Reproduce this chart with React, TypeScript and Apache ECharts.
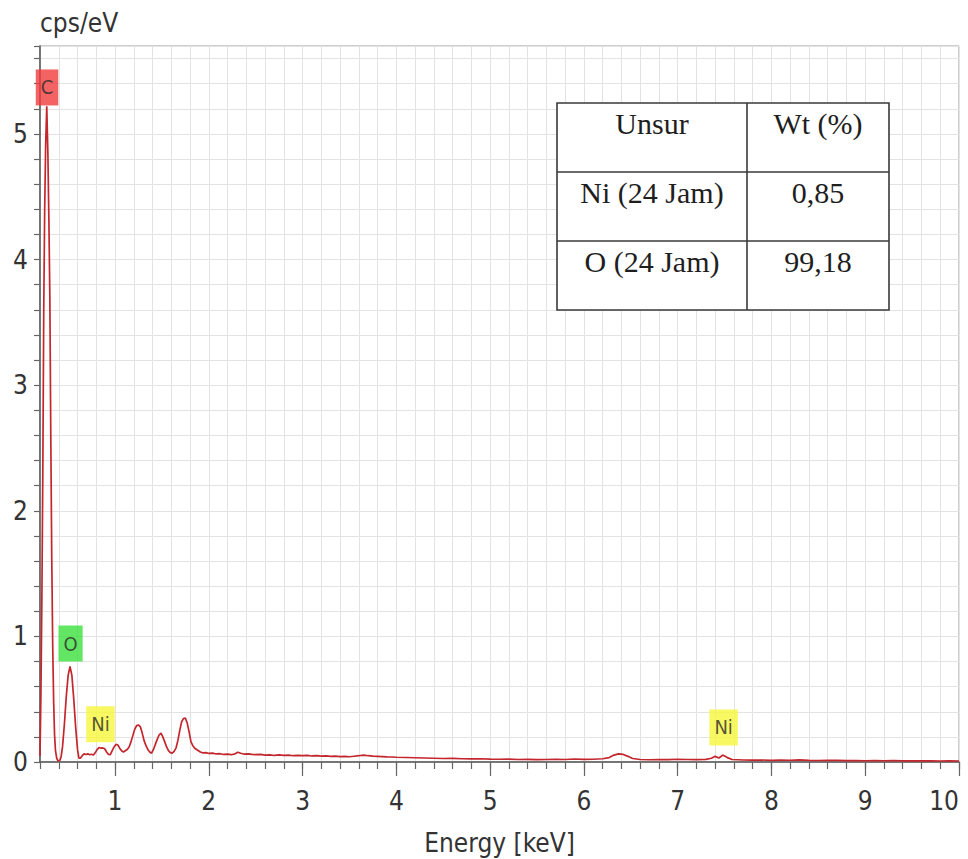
import React, { useEffect, useRef } from "react";
import * as echarts from "echarts";

// ---------- data ----------
const spectrum: [number, number][] = [
  [0.200,0.05],[0.210,0.55],[0.220,1.30],[0.230,2.30],[0.240,3.60],[0.250,4.40],[0.260,4.90],[0.272,5.22],[0.284,4.85],[0.295,4.30],
  [0.305,3.70],[0.315,2.60],[0.325,1.65],[0.335,0.95],[0.345,0.50],[0.355,0.22],[0.365,0.09],[0.378,0.03],[0.392,0.01],[0.410,0.01],
  [0.425,0.04],[0.440,0.12],[0.460,0.30],[0.480,0.52],[0.500,0.69],[0.520,0.76],[0.540,0.69],[0.560,0.50],[0.580,0.28],[0.600,0.10],
  [0.615,0.03],[0.630,0.03],[0.650,0.05],[0.670,0.065],[0.690,0.06],[0.710,0.065],[0.730,0.058],[0.750,0.062],[0.770,0.056],[0.790,0.075],
  [0.810,0.10],[0.830,0.115],[0.850,0.11],[0.870,0.112],[0.890,0.105],[0.910,0.08],[0.930,0.06],[0.950,0.058],[0.970,0.09],[0.990,0.12],
  [1.010,0.14],[1.030,0.135],[1.050,0.11],[1.070,0.09],[1.090,0.08],[1.110,0.09],[1.130,0.10],[1.150,0.12],[1.170,0.16],[1.190,0.21],
  [1.210,0.26],[1.230,0.29],[1.250,0.295],[1.270,0.28],[1.290,0.23],[1.310,0.17],[1.330,0.13],[1.350,0.10],[1.370,0.08],[1.390,0.07],
  [1.410,0.10],[1.430,0.14],[1.450,0.18],[1.470,0.215],[1.490,0.23],[1.510,0.20],[1.530,0.16],[1.550,0.12],[1.570,0.09],[1.590,0.075],
  [1.610,0.07],[1.630,0.085],[1.650,0.11],[1.670,0.17],[1.690,0.25],[1.710,0.32],[1.730,0.345],[1.750,0.35],[1.770,0.31],[1.790,0.24],
  [1.810,0.16],[1.830,0.13],[1.850,0.11],[1.870,0.10],[1.890,0.09],[1.910,0.08],[1.940,0.072],[1.970,0.075],[2.000,0.068],[2.040,0.07],
  [2.080,0.064],[2.120,0.066],[2.160,0.06],[2.200,0.062],[2.240,0.058],[2.280,0.065],[2.310,0.078],[2.340,0.07],[2.380,0.062],[2.420,0.065],
  [2.460,0.06],[2.500,0.058],[2.550,0.06],[2.600,0.055],[2.650,0.057],[2.700,0.052],[2.750,0.056],[2.800,0.053],[2.850,0.055],[2.900,0.05],
  [2.950,0.052],[3.000,0.05],[3.050,0.053],[3.100,0.048],[3.150,0.05],[3.200,0.047],[3.250,0.049],[3.300,0.045],[3.350,0.046],[3.400,0.043],
  [3.450,0.045],[3.500,0.042],[3.550,0.046],[3.600,0.05],[3.650,0.055],[3.700,0.05],[3.750,0.047],[3.800,0.045],[3.850,0.043],[3.900,0.041],
  [3.950,0.04],[4.000,0.038],[4.100,0.036],[4.200,0.034],[4.300,0.032],[4.400,0.03],[4.500,0.028],[4.600,0.029],[4.700,0.026],[4.800,0.025],
  [4.900,0.026],[5.000,0.023],[5.100,0.022],[5.200,0.023],[5.300,0.02],[5.400,0.021],[5.500,0.019],[5.600,0.02],[5.700,0.022],[5.800,0.02],
  [5.900,0.024],[6.000,0.021],[6.100,0.022],[6.200,0.026],[6.270,0.035],[6.320,0.055],[6.370,0.065],[6.420,0.06],[6.470,0.045],[6.520,0.028],
  [6.600,0.02],[6.700,0.018],[6.800,0.02],[6.900,0.019],[7.000,0.022],[7.100,0.02],[7.200,0.019],[7.300,0.021],[7.360,0.03],[7.400,0.045],
  [7.440,0.032],[7.480,0.055],[7.530,0.035],[7.580,0.02],[7.700,0.016],[7.800,0.015],[7.900,0.016],[8.000,0.013],[8.100,0.015],[8.200,0.014],
  [8.300,0.017],[8.400,0.013],[8.500,0.012],[8.600,0.014],[8.700,0.013],[8.800,0.011],[8.900,0.012],[9.000,0.01],[9.100,0.011],[9.200,0.01],
  [9.300,0.012],[9.400,0.009],[9.500,0.01],[9.600,0.009],[9.700,0.01],[9.800,0.008],[9.900,0.009],[10.000,0.008],
];

const peakNames = ["C", "O", "Ni", "Ni"];
const peakLabelKeV = [0.275, 0.526, 0.845, 7.49];
const peakLabelCps = [5.37, 0.943, 0.30, 0.275];
const peakColors = ["#f03c3c", "#3ce03c", "#f6f63c", "#f6f63c"];

const xMajorTicks = [1, 2, 3, 4, 5, 6, 7, 8, 9, 10];

const tableHeader = ["Unsur", "Wt (%)"];
const tableElements = ["Ni (24 Jam)", "O (24 Jam)"];
const tableWt = ["0,85", "99,18"];

const axisFont = "'Liberation Sans Narrow', 'DejaVu Sans Condensed', 'Open Sans', sans-serif";

export default function App() {
  const ref = useRef<HTMLDivElement>(null);

  useEffect(() => {
    document.body.style.margin = "0";
    if (!ref.current) return;
    const chart = echarts.init(ref.current, undefined, { renderer: "svg" });

    // table graphic
    const tx = 557, ty = 103, tw = 332, th = 207;
    const colX = 747;
    const rowY = [103, 172, 241];
    const rows = [tableHeader, ...tableElements.map((e, i) => [e, tableWt[i]])];
    const tableEls: any[] = [
      { type: "rect", shape: { x: tx, y: ty, width: tw, height: th }, style: { fill: "#ffffff", stroke: "#3a3a3a", lineWidth: 1.6 }, z: 100 },
      { type: "line", shape: { x1: colX, y1: ty, x2: colX, y2: ty + th }, style: { stroke: "#3a3a3a", lineWidth: 1.6 }, z: 101 },
      { type: "line", shape: { x1: tx, y1: rowY[1], x2: tx + tw, y2: rowY[1] }, style: { stroke: "#3a3a3a", lineWidth: 1.6 }, z: 101 },
      { type: "line", shape: { x1: tx, y1: rowY[2], x2: tx + tw, y2: rowY[2] }, style: { stroke: "#3a3a3a", lineWidth: 1.6 }, z: 101 },
    ];
    rows.forEach((r, i) => {
      const cy = rowY[i] + 20;
      tableEls.push({
        type: "text", x: (tx + colX) / 2, y: cy, z: 102,
        style: { text: r[0], fontSize: 30, fontFamily: "'Liberation Serif', 'DejaVu Serif', serif", fill: "#1e1e1e", align: "center", verticalAlign: "middle" },
      });
      tableEls.push({
        type: "text", x: (colX + tx + tw) / 2, y: cy, z: 102,
        style: { text: r[1], fontSize: 30, fontFamily: "'Liberation Serif', 'DejaVu Serif', serif", fill: "#1e1e1e", align: "center", verticalAlign: "middle" },
      });
    });

    const isInt = (v: number) => Math.abs(v - Math.round(v)) < 1e-6;

    chart.setOption({
      animation: false,
      backgroundColor: "#ffffff",
      grid: {
        left: 40, right: 9, top: 46, bottom: 97,
        containLabel: false, outerBoundsMode: "none",
        show: true, borderColor: "#9a9a9a", borderWidth: 1, backgroundColor: "#ffffff",
      },
      xAxis: [
        {
          type: "value", min: 0.2, max: 10, interval: 0.2,
          axisLine: { show: true, lineStyle: { color: "#555555", width: 1.5 } },
          axisTick: { show: true, length: 7, lineStyle: { color: "#666666", width: 1.2 } },
          axisLabel: { show: false },
          splitLine: { show: true, lineStyle: { color: "#e3e3e3", width: 1 } },
          name: "Energy [keV]", nameLocation: "middle", nameGap: 68,
          nameTextStyle: { fontFamily: axisFont, fontSize: 26, color: "#333333" },
        },
        {
          type: "value", min: 0.2, max: 10, position: "bottom",
          axisLine: { show: false },
          axisTick: { show: true, length: 14, customValues: xMajorTicks, lineStyle: { color: "#666666", width: 1.2 } },
          axisLabel: {
            show: true, customValues: xMajorTicks, margin: 26, alignMaxLabel: "right",
            fontFamily: axisFont, fontSize: 26, color: "#333333",
          },
          splitLine: { show: false },
        },
      ],
      yAxis: {
        type: "value", min: 0, max: 5.7, interval: 0.2,
        name: "cps/eV", nameLocation: "end", nameGap: 10,
        nameTextStyle: { fontFamily: axisFont, fontSize: 26, color: "#333333", align: "left" },
        axisLine: { show: true, lineStyle: { color: "#555555", width: 1.5 } },
        axisTick: { show: true, length: 6, lineStyle: { color: "#666666", width: 1.2 } },
        axisLabel: {
          margin: 12, fontFamily: axisFont, fontSize: 26, color: "#333333",
          formatter: (v: number) => (isInt(v) ? String(Math.round(v)) : ""),
        },
        splitLine: { show: true, lineStyle: { color: "#e3e3e3", width: 1 } },
      },
      series: [
        {
          type: "line", xAxisIndex: 0, data: spectrum, showSymbol: false, symbol: "none",
          lineStyle: { color: "#c4262e", width: 1.7 }, z: 3,
        },
        {
          type: "scatter", xAxisIndex: 0, symbolSize: 1, itemStyle: { color: "rgba(0,0,0,0)" }, z: 5,
          data: peakNames.map((n, i) => ({
            name: n, value: [peakLabelKeV[i], peakLabelCps[i]],
            label: { backgroundColor: peakColors[i] },
          })),
          label: {
            show: true, position: "inside", formatter: "{b}",
            fontFamily: axisFont, fontSize: 20, color: "#2a2a2a", padding: [8, 5],
          },
          emphasis: { disabled: true },
        },
      ],
      graphic: tableEls,
    });

    return () => chart.dispose();
  }, []);

  return <div ref={ref} style={{ width: 968, height: 859 }} />;
}
